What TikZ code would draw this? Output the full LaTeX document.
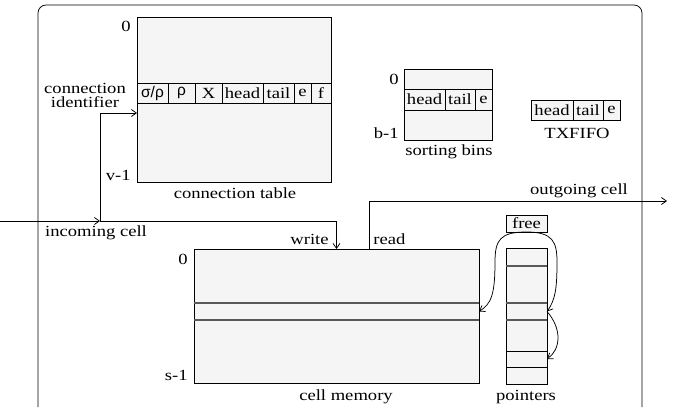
\documentclass[tikz,border=0pt]{standalone}
\usepackage{fontspec}
\setmainfont[FakeStretch=1.2]{Liberation Serif}
\newfontfamily\symfont{Liberation Sans}
\usetikzlibrary{positioning,arrows.meta}

\begin{document}
\begin{tikzpicture}[
  x=1pt, y=-1pt,
  font=\fontsize{15.5pt}{18pt}\selectfont,
  >={Straight Barb[length=5pt,width=7pt]},
  line width=0.75pt,
  tbl/.style={draw, fill=gray!8, inner sep=0pt, outer sep=0pt, anchor=north west},
  fld/.style={draw, fill=gray!8, inner sep=0pt, outer sep=0pt, minimum height=20pt},
  slot/.style={draw, fill=gray!8, inner sep=0pt, outer sep=0pt, minimum width=41pt},
  band/.style={inner sep=0pt, outer sep=0pt, anchor=north west},
  rule/.style={draw=black!65, line width=1.1pt},
  idx/.style={anchor=east, inner sep=2pt},
  lbl/.style={inner sep=0pt},
  ar/.style={->}
]
\useasboundingbox (0,0) rectangle (676,409);
% frame
\draw[rounded corners=8pt] (38,407) -- (38,5) -- (642,5) -- (642,407);

% connection table
\node[tbl, minimum width=194pt, minimum height=165pt] (ctab) at (137,17) {};
\node[fld, minimum width=31pt, anchor=north west] (sig) at (137,83) {\symfont σ/ρ};
\node[fld, minimum width=27pt, right=0pt of sig] (rho) {\symfont ρ};
\node[fld, minimum width=27pt, right=0pt of rho] (xx) {X};
\node[fld, minimum width=41pt, right=0pt of xx] (chead) {head};
\node[fld, minimum width=31pt, right=0pt of chead] (ctail) {tail};
\node[fld, minimum width=17pt, right=0pt of ctail] (ce) {e};
\node[fld, minimum width=20pt, right=0pt of ce] (cf) {f};
\node[idx] (ct0) at (133,26) {0};
\node[idx] (ctv) at (133,175) {v-1};
\node[lbl] (ctname) at (235,193) {connection table};
\node[lbl, align=center, font=\fontsize{15.5pt}{14pt}\selectfont] (cid) at (85,95) {connection\\identifier};

% sorting bins
\node[tbl, minimum width=88pt, minimum height=71pt] (sbin) at (404,69) {};
\node[fld, minimum width=41pt, minimum height=21pt, anchor=north west] (shead) at (404,89) {head};
\node[fld, minimum width=30pt, minimum height=21pt, right=0pt of shead] (stail) {tail};
\node[fld, minimum width=17pt, minimum height=21pt, right=0pt of stail] (se) {e};
\node[idx] (sb0) at (401,79) {0};
\node[idx] (sbb) at (401,133) {b-1};
\node[lbl] (sbname) at (449,152) {sorting bins};

% TXFIFO
\node[fld, minimum width=42pt, anchor=north west] (thead) at (531,100) {head};
\node[fld, minimum width=30pt, right=0pt of thead] (ttail) {tail};
\node[fld, minimum width=17pt, right=0pt of ttail] (te) {e};
\node[lbl] (txname) at (577,133) {TXFIFO};

% cell memory
\node[tbl, minimum width=285pt, minimum height=134pt] (cmem) at (194,249) {};
\node[band, minimum width=285pt, minimum height=17pt] (cband) at (194,303) {};
\draw[rule] (cband.north west) -- (cband.north east);
\draw[rule] (cband.south west) -- (cband.south east);
\node[idx] (cm0) at (190,259) {0};
\node[idx] (cms) at (190,375) {s-1};
\node[lbl] (cmname) at (346,397) {cell memory};

% free list and pointers
\node[fld, minimum width=41pt, minimum height=17pt, anchor=north west] (free) at (506,215) {free};
\node[slot, minimum height=18pt, anchor=north west] (p1) at (506,248) {};
\node[slot, minimum height=37pt, below=0pt of p1] (p2) {};
\node[slot, minimum height=17pt, below=0pt of p2] (p3) {};
\node[slot, minimum height=31pt, below=0pt of p3] (p4) {};
\node[slot, minimum height=16pt, below=0pt of p4] (p5) {};
\node[slot, minimum height=17pt, below=0pt of p5] (p6) {};
\foreach \p in {p2,p3,p4}
  \draw[rule] (\p.north west) -- (\p.north east);
\node[lbl] (pname) at (526,397) {pointers};

% cells in and out
\coordinate (in) at (0,221);
\coordinate (split) at (100,221);
\coordinate (out) at (667,201);
\node[lbl] (incl) at (96,233) {incoming cell};
\node[lbl, anchor=east] (wr) at (329,239) {write};
\node[lbl, anchor=west] (rd) at (373,239) {read};
\node[lbl] (outl) at (579,191) {outgoing cell};
\draw[ar] (in) -- (split);
\draw[ar] (split) |- ([yshift=-10pt]sig.south west);
\draw[ar] (split) -| (cmem.north);
\draw[ar] ([xshift=33pt]cmem.north) |- (out);

% free pointer chain
\draw[ar] (free.south) .. controls (500,232) and (495,240) .. (495,262)
  .. controls (495,295) and (491,304) .. (cband.east);
\draw[ar] (free.south) .. controls (553,232) and (557,242) .. (557,262)
  .. controls (557,290) and (555,300) .. (p3.east);
\draw[ar] (p3.east) .. controls (563,330) and (560,350) .. (p5.east);
\end{tikzpicture}
\end{document}
